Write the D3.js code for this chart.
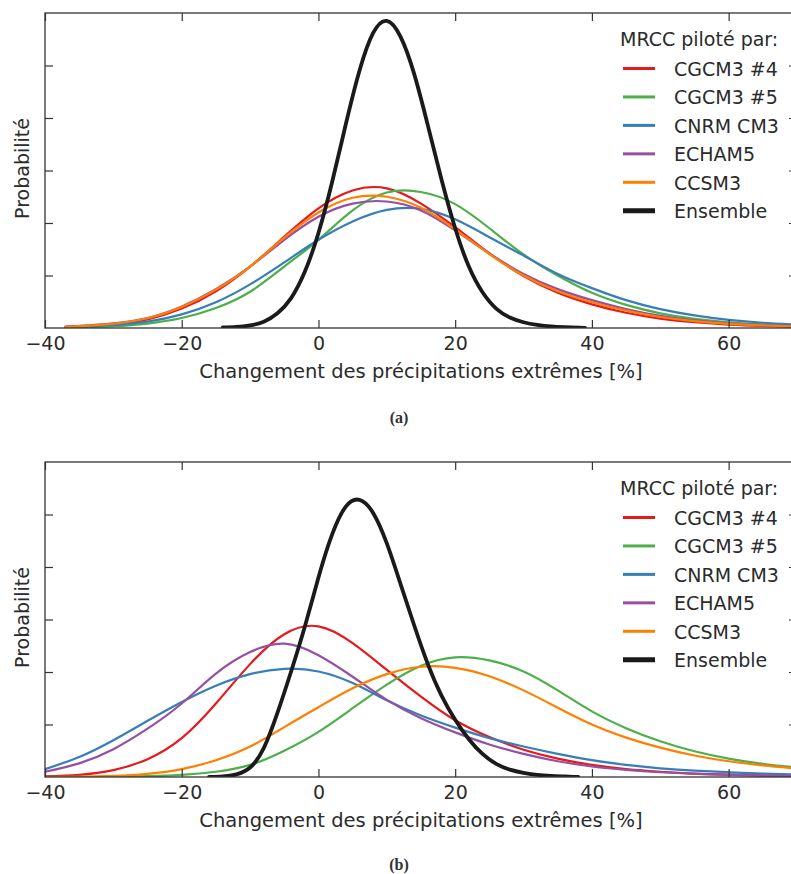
<!DOCTYPE html>
<html><head><meta charset="utf-8">
<script src="https://cdn.jsdelivr.net/npm/d3@7"></script>
<style>body{margin:0;background:#fff} svg{display:block}</style>
</head><body><svg id="c" width="791" height="874"></svg>
<script>
// ---------- data ----------
const seriesNames = ["CGCM3 #4","CGCM3 #5","CNRM CM3","ECHAM5","CCSM3","Ensemble"];
const xTicks = [-40,-20,0,20,40,60];
const yTicks = [1,2,3,4,5];
const legendTitle = "MRCC piloté par:";
const xLabel = "Changement des précipitations extrêmes [%]";
const yLabel = "Probabilité";
const captions = ["(a)","(b)"];

// panel (a)
const xA = [-37,-35,-30,-25,-20,-15,-10,-5,0,5,10,15,20,25,30,35,40,45,50,55,60,65,70];
const aCGCM3_4 = [0.015,0.025,0.07,0.165,0.37,0.70,1.17,1.74,2.28,2.62,2.66,2.37,1.92,1.42,0.99,0.67,0.45,0.29,0.18,0.11,0.065,0.04,0.025];
const aCGCM3_5 = [0.008,0.013,0.035,0.085,0.19,0.38,0.69,1.17,1.68,2.24,2.58,2.59,2.36,1.90,1.40,1.00,0.67,0.44,0.28,0.175,0.11,0.07,0.045];
const aCNRM    = [0.02,0.03,0.055,0.12,0.26,0.49,0.83,1.25,1.68,2.03,2.25,2.27,2.07,1.73,1.38,1.03,0.76,0.53,0.36,0.24,0.155,0.10,0.065];
const aECHAM5  = [0.025,0.04,0.09,0.19,0.41,0.74,1.17,1.68,2.12,2.37,2.41,2.24,1.86,1.42,1.03,0.74,0.53,0.36,0.23,0.145,0.09,0.055,0.033];
const aCCSM3   = [0.02,0.035,0.085,0.185,0.40,0.73,1.17,1.72,2.20,2.48,2.50,2.29,1.88,1.41,1.00,0.70,0.49,0.33,0.21,0.13,0.08,0.05,0.03];
const xEnsA = [-14,-12,-10,-8,-6,-4,-2,0,2,4,6,8,10,12,14,16,18,20,22,24,26,28,30,32,34,36,39];
const aEns  = [0.01,0.02,0.05,0.12,0.28,0.57,1.07,1.81,2.78,3.88,4.90,5.62,5.85,5.55,4.84,3.86,2.83,1.90,1.17,0.68,0.37,0.20,0.11,0.06,0.03,0.015,0.0];

// panel (b)
const xB = [-40,-35,-30,-25,-20,-15,-10,-5,0,5,10,15,20,25,30,35,40,45,50,55,60,65,70];
const bCGCM3_4 = [0.01,0.04,0.13,0.34,0.74,1.40,2.15,2.72,2.87,2.55,2.04,1.53,1.08,0.76,0.52,0.35,0.23,0.15,0.10,0.065,0.045,0.03,0.02];
const bCGCM3_5 = [0.0,0.002,0.005,0.015,0.04,0.10,0.23,0.50,0.86,1.31,1.76,2.12,2.28,2.22,2.01,1.65,1.25,0.93,0.68,0.49,0.35,0.25,0.18];
const bCNRM    = [0.15,0.38,0.70,1.07,1.43,1.74,1.96,2.06,2.01,1.79,1.46,1.17,0.94,0.74,0.58,0.44,0.32,0.23,0.165,0.12,0.09,0.065,0.05];
const bECHAM5  = [0.10,0.26,0.53,0.92,1.40,1.97,2.38,2.54,2.32,1.91,1.47,1.12,0.85,0.62,0.44,0.30,0.20,0.135,0.09,0.06,0.04,0.027,0.018];
const bCCSM3   = [0.0,0.005,0.02,0.06,0.15,0.32,0.58,0.95,1.33,1.69,1.96,2.10,2.08,1.92,1.65,1.32,1.00,0.75,0.56,0.41,0.30,0.22,0.16];
const xEnsB = [-16,-14,-12,-10,-8,-6,-4,-2,0,2,4,6,8,10,12,14,16,18,20,22,24,26,28,30,32,34,36,38];
const bEns  = [0.0,0.01,0.05,0.18,0.55,1.22,2.01,2.86,3.80,4.62,5.15,5.28,5.03,4.45,3.68,2.89,2.15,1.55,1.09,0.72,0.44,0.25,0.14,0.08,0.04,0.02,0.01,0.0];

// ---------- style ----------
const colors = ["#e41a1c","#4daf4a","#377eb8","#984ea3","#ff7f00","#1a1a1a"];
const widths = [2.2,2.2,2.2,2.2,2.2,3.8];
const FONT = "'DejaVu Sans', sans-serif";
const TXT = "#2b2b2b";

const panels = [
  {top:13, bottom:328, xs:[xA,xA,xA,xA,xA,xEnsA], ys:[aCGCM3_4,aCGCM3_5,aCNRM,aECHAM5,aCCSM3,aEns], cap:captions[0], capY:423},
  {top:462, bottom:777, xs:[xB,xB,xB,xB,xB,xEnsB], ys:[bCGCM3_4,bCGCM3_5,bCNRM,bECHAM5,bCCSM3,bEns], cap:captions[1], capY:870}
];

const svg = d3.select("#c");
const left = 45, right = 797;
const x = d3.scaleLinear().domain([-40,70]).range([left,right]);

panels.forEach((p,pi)=>{
  const y = d3.scaleLinear().domain([0,6]).range([p.bottom,p.top]);
  const g = svg.append("g");
  const clipId = "clip"+pi;
  g.append("clipPath").attr("id",clipId).append("rect")
    .attr("x",left).attr("y",p.top).attr("width",right-left).attr("height",p.bottom-p.top);

  const line = d3.line().x(d=>x(d[0])).y(d=>y(d[1])).curve(d3.curveNatural);
  const cg = g.append("g").attr("clip-path",`url(#${clipId})`);
  seriesNames.forEach((name,i)=>{
    const pts = p.xs[i].map((v,j)=>[v,p.ys[i][j]]);
    cg.append("path").attr("d",line(pts)).attr("fill","none")
      .attr("stroke",colors[i]).attr("stroke-width",widths[i])
      .attr("stroke-linejoin","round").attr("stroke-linecap","round");
  });

  // axes (ticks inward)
  const axB = g.append("g").attr("transform",`translate(0,${p.bottom})`)
    .call(d3.axisBottom(x).tickValues(xTicks).tickSize(-8).tickPadding(9));
  const axT = g.append("g").attr("transform",`translate(0,${p.top})`)
    .call(d3.axisTop(x).tickValues(xTicks).tickSize(-8).tickFormat(""));
  const axL = g.append("g").attr("transform",`translate(${left},0)`)
    .call(d3.axisLeft(y).tickValues(yTicks).tickSize(-8).tickFormat(""));
  const axR = g.append("g").attr("transform",`translate(${right},0)`)
    .call(d3.axisRight(y).tickValues(yTicks).tickSize(-8).tickFormat(""));
  [axB,axT,axL,axR].forEach(a=>{
    a.select(".domain").remove();
    a.selectAll(".tick line").attr("stroke","#333").attr("stroke-width",1.2);
    a.selectAll("text").attr("font-family",FONT).attr("font-size",19).attr("fill",TXT);
  });
  g.append("rect").attr("x",left).attr("y",p.top).attr("width",right-left).attr("height",p.bottom-p.top)
    .attr("fill","none").attr("stroke","#333").attr("stroke-width",1.3);

  // labels
  g.append("text").attr("x",(left+right)/2).attr("y",p.bottom+50).attr("text-anchor","middle")
    .attr("font-family",FONT).attr("font-size",19.5).attr("fill",TXT).text(xLabel);
  g.append("text").attr("transform",`translate(29,${(p.top+p.bottom)/2-2}) rotate(-90)`)
    .attr("text-anchor","middle").attr("font-family",FONT).attr("font-size",19).attr("fill",TXT).text(yLabel);

  // legend
  const lg = g.append("g");
  lg.append("text").attr("x",620).attr("y",p.top+32.7).attr("font-family",FONT).attr("font-size",19)
    .attr("fill",TXT).text(legendTitle);
  seriesNames.forEach((name,i)=>{
    const by = p.top+63+28.45*i;
    lg.append("line").attr("x1",623).attr("x2",655).attr("y1",by-7.5).attr("y2",by-7.5)
      .attr("stroke",colors[i]).attr("stroke-width",i===5?5:3);
    lg.append("text").attr("x",674).attr("y",by).attr("font-family",FONT).attr("font-size",19)
      .attr("fill",TXT).text(name);
  });

  // caption
  svg.append("text").attr("x",399).attr("y",p.capY).attr("text-anchor","middle")
    .attr("font-family","'Liberation Serif', serif").attr("font-weight","bold").attr("font-size",16)
    .attr("fill","#333").text(p.cap);
});
</script></body></html>
